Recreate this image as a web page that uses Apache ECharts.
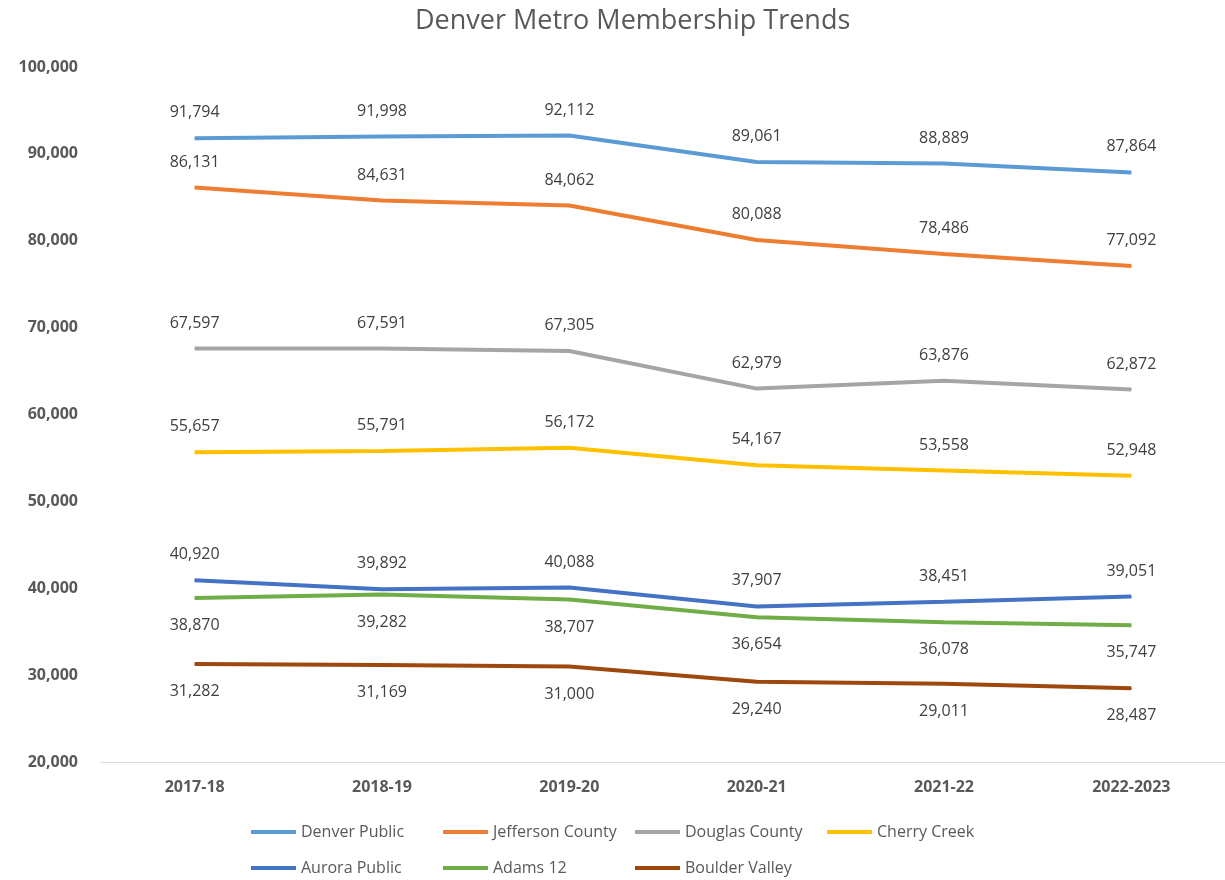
<!DOCTYPE html>
<html>
<head>
<meta charset="utf-8">
<script src="https://cdn.jsdelivr.net/npm/echarts@6/dist/echarts.min.js"></script>
<style>
  html, body { margin: 0; padding: 0; background: #fff; }
  #c_container { width: 1225px; height: 880px; }
</style>
</head>
<body>
<div id="c_container"></div>
<script>
var seasons = ["2017-18", "2018-19", "2019-20", "2020-21", "2021-22", "2022-2023"];
var seriesNames = ["Denver Public", "Jefferson County", "Douglas County", "Cherry Creek",
  "Aurora Public", "Adams 12", "Boulder Valley"];
var denverPublic = [91794, 91998, 92112, 89061, 88889, 87864];
var jeffersonCounty = [86131, 84631, 84062, 80088, 78486, 77092];
var douglasCounty = [67597, 67591, 67305, 62979, 63876, 62872];
var cherryCreek = [55657, 55791, 56172, 54167, 53558, 52948];
var auroraPublic = [40920, 39892, 40088, 37907, 38451, 39051];
var adams12 = [38870, 39282, 38707, 36654, 36078, 35747];
var boulderValley = [31282, 31169, 31000, 29240, 29011, 28487];
var allValues = [denverPublic, jeffersonCounty, douglasCounty, cherryCreek,
  auroraPublic, adams12, boulderValley];
var colorList = ["#5B9BD5", "#ED7D31", "#A5A5A5", "#FFC000", "#4472C4", "#70AD47", "#9E480E"];
// labels below the line for the two lower series
var labelPos = ["top", "top", "top", "top", "top", "bottom", "bottom"];

var font_family = "'Open Sans', sans-serif";
var myChart = echarts.init(document.getElementById("c_container"));

var series = [];
for (var k = 0; k < seriesNames.length; k++) {
  series.push({
    name: seriesNames[k],
    type: "line",
    data: allValues[k],
    symbol: "circle",
    symbolSize: 1,
    lineStyle: { width: 4, color: colorList[k] },
    itemStyle: { color: colorList[k] },
    label: {
      show: true,
      position: labelPos[k],
      distance: labelPos[k] == "top" ? 17 : 19,
      color: "#404040",
      fontSize: 16,
      fontFamily: font_family,
      formatter: function (p) {
        return p.value.toLocaleString("en-US");
      },
    },
    emphasis: { disabled: true },
  });
}

myChart.setOption({
  animation: false,
  color: colorList,
  title: {
    text: "Denver Metro Membership Trends",
    left: 410,
    top: 3,
    textStyle: {
      color: "#595959",
      fontSize: 27,
      fontWeight: "normal",
      fontFamily: font_family,
    },
  },
  grid: { left: 101, top: 67, width: 1134, bottom: 118, containLabel: false },
  legend: {
    data: seriesNames,
    left: 246,
    top: 814,
    width: 780,
    icon: "rect",
    itemWidth: 45,
    itemHeight: 4,
    itemGap: 10,
    textStyle: {
      color: "#595959",
      fontSize: 16,
      fontFamily: font_family,
      width: 132,
      lineHeight: 26,
    },
  },
  xAxis: {
    type: "category",
    data: seasons,
    boundaryGap: true,
    axisLine: { show: true, lineStyle: { color: "#D9D9D9", width: 1 } },
    axisTick: { show: false },
    splitLine: { show: false },
    axisLabel: {
      color: "#595959",
      fontSize: 16,
      fontWeight: "bold",
      fontFamily: font_family,
      margin: 17,
      interval: 0,
    },
  },
  yAxis: {
    type: "value",
    min: 20000,
    max: 100000,
    interval: 10000,
    axisLine: { show: false },
    axisTick: { show: false },
    splitLine: { show: false },
    axisLabel: {
      color: "#595959",
      fontSize: 16,
      fontWeight: "bold",
      fontFamily: font_family,
      margin: 23,
      formatter: function (v) {
        return v.toLocaleString("en-US");
      },
    },
  },
  series: series,
});
</script>
</body>
</html>
